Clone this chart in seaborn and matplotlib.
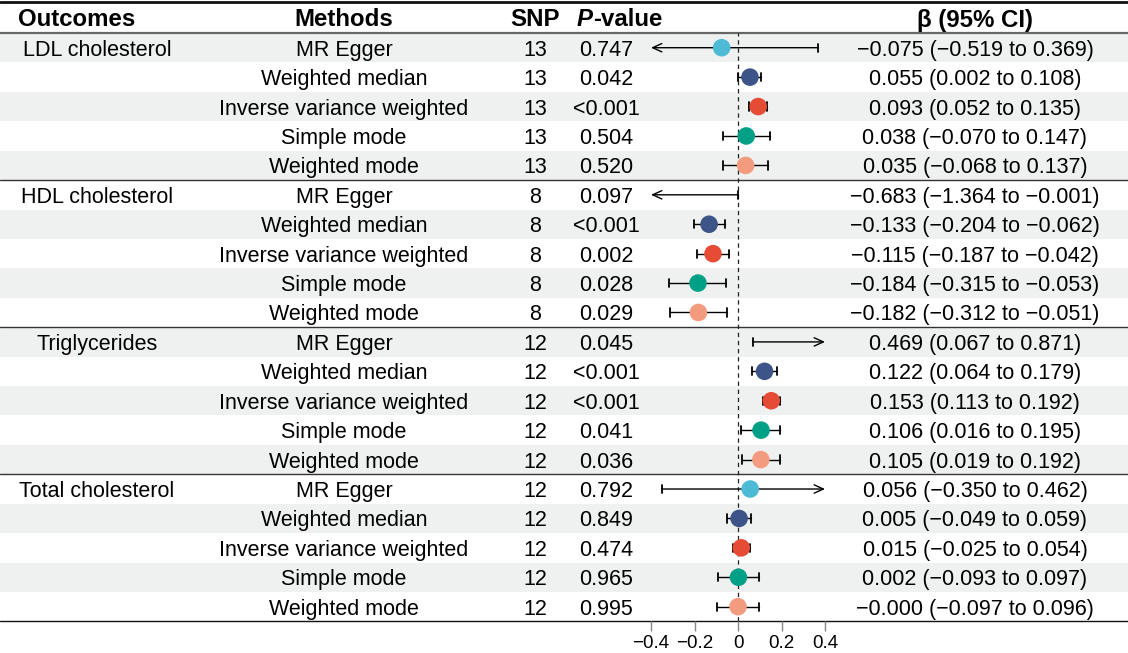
import numpy as np
import pandas as pd
import matplotlib
matplotlib.use("Agg")
import matplotlib.pyplot as plt
import seaborn as sns

# ---------------- data ----------------
outcomes = ["LDL cholesterol", "HDL cholesterol", "Triglycerides", "Total cholesterol"]
methods = ["MR Egger", "Weighted median", "Inverse variance weighted",
           "Simple mode", "Weighted mode"]
snp_counts = [13, 8, 12, 12]
p_values = ["0.747", "0.042", "<0.001", "0.504", "0.520",
            "0.097", "<0.001", "0.002", "0.028", "0.029",
            "0.045", "<0.001", "<0.001", "0.041", "0.036",
            "0.792", "0.849", "0.474", "0.965", "0.995"]
beta = [-0.075, 0.055, 0.093, 0.038, 0.035,
        -0.683, -0.133, -0.115, -0.184, -0.182,
        0.469, 0.122, 0.153, 0.106, 0.105,
        0.056, 0.005, 0.015, 0.002, -0.000]
ci_lower = [-0.519, 0.002, 0.052, -0.070, -0.068,
            -1.364, -0.204, -0.187, -0.315, -0.312,
            0.067, 0.064, 0.113, 0.016, 0.019,
            -0.350, -0.049, -0.025, -0.093, -0.097]
ci_upper = [0.369, 0.108, 0.135, 0.147, 0.137,
            -0.001, -0.062, -0.042, -0.053, -0.051,
            0.871, 0.179, 0.192, 0.195, 0.192,
            0.462, 0.059, 0.054, 0.097, 0.096]
method_colors = ["#4DBBD5", "#3C5488", "#E64B35", "#00A087", "#F39B7F"]
x_ticks = [-0.4, -0.2, 0, 0.2, 0.4]
x_tick_labels = ["\u22120.4", "\u22120.2", "0", "0.2", "0.4"]
headers = ["Outcomes", "Methods", "SNP", "\u03b2 (95% CI)"]

n_m = len(methods)
rows = []
for gi, oc in enumerate(outcomes):
    for mi, m in enumerate(methods):
        i = gi * n_m + mi
        rows.append(dict(row=i, outcome=oc, method=m, snp=snp_counts[gi],
                         p=p_values[i], beta=beta[i], lo=ci_lower[i], hi=ci_upper[i]))
df = pd.DataFrame(rows)
n_rows = len(df)

def fmt(v):
    return f"{v:.3f}".replace("-", "\u2212")

# ---------------- layout (pixels) ----------------
W, H = 1128, 653
TOP_HDR = 33.0
ROW_H = 29.42
AX_BOTTOM = TOP_HDR + ROW_H * n_rows
CLIP = 0.4
FS = 15.5
FS_HDR = 17.3
FONT = "Liberation Sans"

sns.set_theme(style="white")
plt.rcParams["font.family"] = [FONT, "DejaVu Sans"]
plt.rcParams["text.color"] = "black"
plt.rcParams["xtick.color"] = "black"

fig = plt.figure(figsize=(W / 100, H / 100), dpi=100)
bg = fig.add_axes([0, 0, 1, 1])
bg.set_xlim(0, W)
bg.set_ylim(H, 0)
bg.axis("off")

def row_y(i):
    return TOP_HDR + ROW_H * (i + 0.5)

# shading
for i in range(n_rows):
    if i % 2 == 0:
        bg.axhspan(TOP_HDR + ROW_H * i, TOP_HDR + ROW_H * (i + 1),
                   color="#EEF1F0", lw=0, zorder=0)

# lines
bg.axhline(1.5, color="#111111", lw=2.0, zorder=2)
bg.axhline(TOP_HDR, color="#666666", lw=1.6, zorder=2)
for g in range(1, len(outcomes)):
    bg.axhline(TOP_HDR + ROW_H * n_m * g, color="#333333", lw=1.0, zorder=2)
bg.axhline(AX_BOTTOM, color="#111111", lw=1.0, zorder=2)

# headers
hy = 17.5
kw_h = dict(va="center_baseline", fontsize=FS_HDR, fontweight="bold", color="black")
bg.text(77, hy, headers[0], ha="center", **kw_h)
bg.text(344, hy, headers[1], ha="center", **kw_h)
bg.text(535, hy, headers[2], ha="center", **kw_h)
tp = bg.text(577, hy, "P", ha="left", fontstyle="italic", **kw_h)
bg.annotate("-value", xy=(1, 0), xycoords=tp, ha="left", va="bottom",
            fontsize=FS_HDR, fontweight="bold", color="black")
bg.text(975, hy, headers[3], ha="center", **kw_h)

# table body
kw = dict(va="center_baseline", fontsize=FS, color="black")
for gi, oc in enumerate(outcomes):
    bg.text(97, row_y(gi * n_m), oc, ha="center", **kw)
for _, r in df.iterrows():
    y = row_y(r["row"])
    bg.text(344, y, r["method"], ha="center", **kw)
    bg.text(535, y, str(r["snp"]), ha="center", **kw)
    bg.text(606, y, r["p"], ha="center", **kw)
    bg.text(975, y, f"{fmt(r['beta'])} ({fmt(r['lo'])} to {fmt(r['hi'])})",
            ha="center", **kw)

# ---------------- forest axes ----------------
x0_px = 738.0
px_per_unit = 217.5
xl, xr = -0.5, 0.5
left_px = x0_px + xl * px_per_unit
ax = fig.add_axes([left_px / W, (H - AX_BOTTOM) / H,
                   (xr - xl) * px_per_unit / W, (AX_BOTTOM - TOP_HDR) / H])
ax.set_xlim(xl, xr)
ax.set_ylim(n_rows - 0.5, -0.5)
ax.patch.set_alpha(0)
for s in ax.spines.values():
    s.set_visible(False)
ax.axvline(0, color="#222222", lw=0.9, ls=(0, (3.5, 3)), zorder=1)

cap = 0.14
for _, r in df.iterrows():
    y = r["row"]
    lo_c = max(r["lo"], -CLIP)
    hi_c = min(r["hi"], CLIP)
    left_clip = r["lo"] < -CLIP
    right_clip = r["hi"] > CLIP
    if left_clip or right_clip:
        style = "<->" if (left_clip and right_clip) else ("<-" if left_clip else "->")
        ax.annotate("", xy=(hi_c, y), xytext=(lo_c, y),
                    arrowprops=dict(arrowstyle=style + ",head_length=0.55,head_width=0.25",
                                    color="black", lw=1.0, shrinkA=0, shrinkB=0),
                    zorder=2)
    else:
        ax.plot([lo_c, hi_c], [y, y], color="black", lw=1.0, zorder=2)
    if not left_clip:
        ax.plot([lo_c, lo_c], [y - cap, y + cap], color="black", lw=1.3, zorder=2)
    if not right_clip:
        ax.plot([hi_c, hi_c], [y - cap, y + cap], color="black", lw=1.3, zorder=2)

pts = df[(df["beta"] >= -CLIP) & (df["beta"] <= CLIP)]
sns.scatterplot(data=pts, x="beta", y="row", hue="method", hue_order=methods,
                palette=method_colors, s=160, linewidth=0, legend=False,
                ax=ax, zorder=3)

ax.set_xticks(x_ticks)
ax.set_xticklabels(x_tick_labels)
ax.set_yticks([])
ax.set_xlabel("")
ax.set_ylabel("")
ax.tick_params(axis="x", bottom=True, length=7.5, width=1.0, color="#888888",
               labelsize=13.5, pad=2.5, labelcolor="black")

fig.savefig("out.png", dpi=100)
